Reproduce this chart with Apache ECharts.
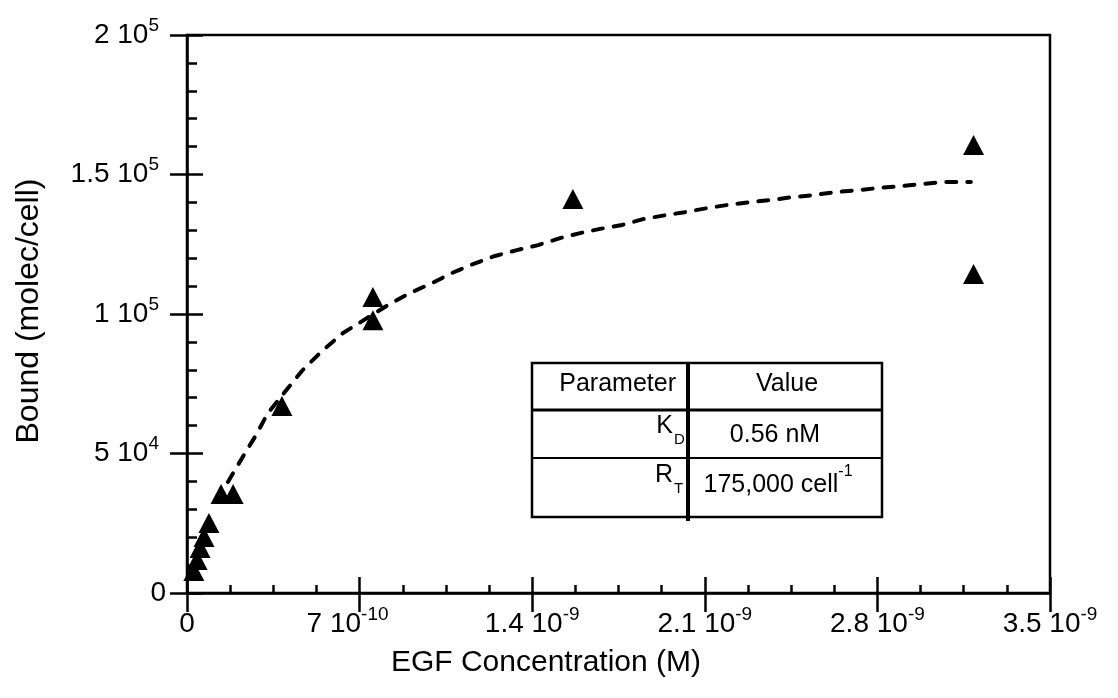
<!DOCTYPE html>
<html>
<head>
<meta charset="utf-8">
<script src="https://cdn.jsdelivr.net/npm/echarts@6/dist/echarts.min.js"></script>
<style>
  html, body { margin: 0; padding: 0; background: #fff; }
  #chart { width: 1118px; height: 698px; }
</style>
</head>
<body>
<div id="chart"></div>
<script>
// Measured EGF binding: free concentration (M) vs bound receptors (molec/cell)
const egfConc = [2.8e-11, 4.1e-11, 5.3e-11, 6.9e-11, 8.9e-11, 1.38e-10, 1.87e-10,
                 3.85e-10, 7.54e-10, 7.54e-10, 1.565e-9, 3.19e-9, 3.19e-9];
const boundMolec = [7900, 11800, 16100, 20100, 25100, 35500, 35500,
                    67000, 106100, 97800, 141200, 160600, 114300];

// Saturation binding fit (dashed curve)
const fitConc = [1.66e-10, 2.31e-10, 2.80e-10, 3.28e-10, 4.66e-10, 5.52e-10, 6.33e-10,
                 8.15e-10, 9.04e-10, 9.94e-10, 1.075e-9, 1.160e-9, 1.249e-9, 1.338e-9,
                 1.424e-9, 1.513e-9, 1.594e-9, 1.675e-9, 1.764e-9, 1.849e-9, 1.946e-9,
                 2.019e-9, 2.113e-9, 2.194e-9, 2.283e-9, 2.372e-9, 2.457e-9, 2.539e-9,
                 2.628e-9, 2.721e-9, 2.810e-9, 2.899e-9, 2.985e-9, 3.066e-9, 3.179e-9];
const fitBound = [39800, 49500, 56600, 64500, 79600, 87100, 93200,
                  103200, 107500, 111100, 114700, 117900, 120800, 122900,
                  124700, 127200, 129000, 130500, 131900, 134000, 135500,
                  136500, 138000, 139100, 140100, 140900, 141900, 142600,
                  143700, 144400, 145200, 145900, 146600, 147300, 147300];

// Tick labels: mantissa part and power-of-ten exponent
const xTickMain = ['0', '7 10', '1.4 10', '2.1 10', '2.8 10', '3.5 10'];
const xTickExp  = ['', '-10', '-9', '-9', '-9', '-9'];
const yTickMain = ['0', '5 10', '1 10', '1.5 10', '2 10'];
const yTickExp  = ['', '4', '5', '5', '5'];

// Axis titles
const xTitle = 'EGF Concentration (M)';
const yTitle = 'Bound (molec/cell)';

// Fitted parameters shown in the inset table
const tableHeader = ['Parameter', 'Value'];
const tableRows = [
  { sym: 'K', sub: 'D', value: '0.56 nM', sup: '' },
  { sym: 'R', sub: 'T', value: '175,000 cell', sup: '-1' }
];

const X_STEP = 7e-10, Y_STEP = 50000;
const FONT = '"Liberation Sans", Arial, Helvetica, sans-serif';

const mainTok = { fontSize: 28, lineHeight: 38, verticalAlign: 'middle', fontFamily: FONT, color: '#000' };
const supTok = { fontSize: 19, lineHeight: 20, verticalAlign: 'top', fontFamily: FONT, color: '#000' };
const xRich = {
  m: mainTok,
  s: supTok,
  w: Object.assign({}, supTok, { padding: [0, 24, 0, 0] })
};
const yRich = {
  m: mainTok,
  s: Object.assign({}, supTok, { padding: [0, 7, 0, 0] })
};
function tickLabel(main, exp, supKey) {
  return exp ? '{m|' + main + '}{' + supKey + '|' + exp + '}' : '{m|' + main + '}';
}

const points = egfConc.map((c, i) => [c, boundMolec[i]]);
const fitLine = fitConc.map((c, i) => [c, fitBound[i]]);

const axisLine = { show: true, lineStyle: { color: '#000', width: 2.5 } };

const chart = echarts.init(document.getElementById('chart'), null, { renderer: 'canvas' });

const tx = 532, ty = 363, tw = 350, th = 154, colX = 688, row1 = 410, row2 = 458;
const cellText = (x, y, text, align, size, rich) => ({
  type: 'text', x: x, y: y, z: 100,
  style: { text: text, align: align, verticalAlign: 'middle', rich: rich,
           font: size + 'px ' + FONT, fill: '#000' }
});
const valRich = {
  a: { fontSize: 25, fontFamily: FONT, lineHeight: 34, verticalAlign: 'bottom', fill: '#000' },
  b: { fontSize: 16, fontFamily: FONT, lineHeight: 18, verticalAlign: 'top', fill: '#000' }
};

chart.setOption({
  animation: false,
  backgroundColor: '#fff',
  grid: { left: 187, right: 68, top: 35, bottom: 105, show: true,
          borderColor: '#000', borderWidth: 2.5, backgroundColor: 'transparent' },
  xAxis: [{
    type: 'value', min: 0, max: 3.5e-9, interval: X_STEP, position: 'bottom',
    axisLine: axisLine,
    axisTick: { show: true, inside: false, length: 19, lineStyle: { color: '#000', width: 2.5 } },
    splitLine: { show: false },
    axisLabel: {
      margin: 12, rich: xRich,
      formatter: v => {
        const i = Math.round(v / X_STEP);
        return tickLabel(xTickMain[i], xTickExp[i], xTickExp[i].length > 2 ? 'w' : 's');
      }
    }
  }, {
    type: 'value', min: 0, max: 3.5e-9, interval: X_STEP, position: 'bottom',
    axisLine: { show: false },
    axisTick: { show: true, inside: true, length: 16, lineStyle: { color: '#000', width: 2.5 } },
    minorTick: { show: true, splitNumber: 4, length: 8, lineStyle: { color: '#000', width: 2.5 } },
    axisLabel: { show: false }, splitLine: { show: false }
  }],
  yAxis: [{
    type: 'value', min: 0, max: 200000, interval: Y_STEP, position: 'left',
    axisLine: axisLine,
    axisTick: { show: true, inside: false, length: 17, lineStyle: { color: '#000', width: 2.5 } },
    splitLine: { show: false },
    axisLabel: {
      margin: 21, rich: yRich,
      formatter: v => { const i = Math.round(v / Y_STEP); return tickLabel(yTickMain[i], yTickExp[i], 's'); }
    }
  }, {
    type: 'value', min: 0, max: 200000, interval: Y_STEP, position: 'left',
    axisLine: { show: false },
    axisTick: { show: true, inside: true, length: 16, lineStyle: { color: '#000', width: 2.5 } },
    minorTick: { show: true, splitNumber: 5, length: 10, lineStyle: { color: '#000', width: 2.5 } },
    axisLabel: { show: false }, splitLine: { show: false }
  }],
  series: [{
    name: 'fit', type: 'line', data: fitLine, showSymbol: false, symbol: 'none',
    smooth: false, z: 2,
    lineStyle: { color: '#000', width: 4, type: [10, 11], cap: 'round', opacity: 1 }
  }, {
    name: 'bound', type: 'scatter', data: points, symbol: 'triangle',
    symbolSize: [21, 20], z: 3,
    itemStyle: { color: '#000', opacity: 1 }
  }],
  graphic: [
    { type: 'text', x: 546, y: 663, z: 50,
      style: { text: xTitle, align: 'center', verticalAlign: 'middle', font: '30px ' + FONT, fill: '#000' } },
    { type: 'text', x: 29, y: 311, rotation: Math.PI / 2, z: 50,
      style: { text: yTitle, align: 'center', verticalAlign: 'middle', font: '32px ' + FONT, fill: '#000' } },
    { type: 'rect', z: 100, shape: { x: tx, y: ty, width: tw, height: th },
      style: { fill: '#fff', stroke: '#000', lineWidth: 2.5 } },
    { type: 'line', z: 101, shape: { x1: colX, y1: ty, x2: colX, y2: ty + th + 4 },
      style: { stroke: '#000', lineWidth: 4 } },
    { type: 'line', z: 101, shape: { x1: tx, y1: row1, x2: tx + tw, y2: row1 },
      style: { stroke: '#000', lineWidth: 3 } },
    { type: 'line', z: 101, shape: { x1: tx, y1: row2, x2: tx + tw, y2: row2 },
      style: { stroke: '#000', lineWidth: 2 } },
    cellText(676, 384, tableHeader[0], 'right', 25),
    cellText(787, 384, tableHeader[1], 'center', 25),
    // symbol with lowered subscript
    cellText(673, 426, tableRows[0].sym, 'right', 25),
    cellText(674, 440, tableRows[0].sub, 'left', 15),
    cellText(775, 431, '{a|' + tableRows[0].value + '}', 'center', 25, valRich),
    cellText(673, 475, tableRows[1].sym, 'right', 25),
    cellText(674, 489, tableRows[1].sub, 'left', 15),
    cellText(778, 481, '{a|' + tableRows[1].value + '}{b|' + tableRows[1].sup + '}', 'center', 25, valRich)
  ]
});
</script>
</body>
</html>
